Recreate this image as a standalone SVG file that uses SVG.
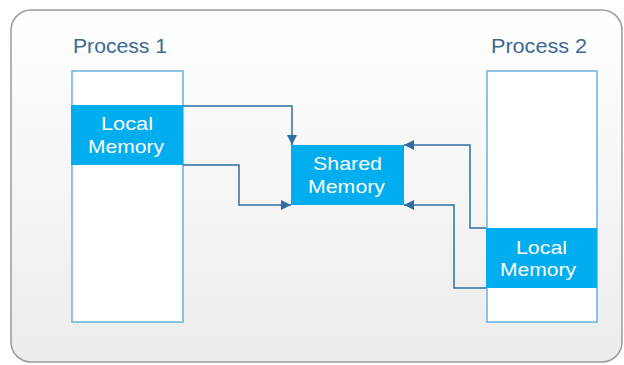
<svg xmlns="http://www.w3.org/2000/svg" width="624" height="365" viewBox="0 0 624 365">
<defs>
<linearGradient id="bg" x1="0" y1="0" x2="0" y2="1">
<stop offset="0" stop-color="#ffffff"/>
<stop offset="1" stop-color="#ececec"/>
</linearGradient>
<marker id="ah" viewBox="0 0 10 10" refX="10" refY="5" markerWidth="10" markerHeight="10" markerUnits="userSpaceOnUse" orient="auto">
<path d="M0,0 L10,5 L0,10 z" fill="#2f6ea3"/>
</marker>
<style>
.proc{fill:#ffffff;stroke:#6aaee0;stroke-width:1.5}
.mem{fill:#00adef}
.title{font-family:"Liberation Sans",Arial,sans-serif;font-size:19.5px;fill:#3a6a94}
.lbl{font-family:"Liberation Sans",Arial,sans-serif;font-size:18.5px;fill:#ffffff}
.conn{fill:none;stroke:#2f6ea3;stroke-width:1.5;marker-end:url(#ah)}
</style>
</defs>
<rect x="11" y="10" width="611" height="352" rx="20" fill="url(#bg)" stroke="#9a9a9a" stroke-width="1.5"/>
<g id="process1">
<text class="title" x="73" y="53" textLength="94" lengthAdjust="spacingAndGlyphs">Process 1</text>
<rect class="proc" x="72" y="71" width="111" height="251"/>
</g>
<g id="process2">
<text class="title" x="491" y="53" textLength="96" lengthAdjust="spacingAndGlyphs">Process 2</text>
<rect class="proc" x="487" y="71" width="110" height="251"/>
</g>
<g id="local1">
<rect class="mem" x="71" y="105" width="112" height="60"/>
<text class="lbl" x="101" y="130" textLength="52" lengthAdjust="spacingAndGlyphs">Local</text>
<text class="lbl" x="88" y="153" textLength="76" lengthAdjust="spacingAndGlyphs">Memory</text>
</g>
<g id="local2">
<rect class="mem" x="486" y="228" width="111" height="60"/>
<text class="lbl" x="516" y="254" textLength="51" lengthAdjust="spacingAndGlyphs">Local</text>
<text class="lbl" x="500" y="276" textLength="76" lengthAdjust="spacingAndGlyphs">Memory</text>
</g>
<g id="shared">
<rect class="mem" x="291" y="145" width="113" height="60"/>
<text class="lbl" x="313" y="170" textLength="69" lengthAdjust="spacingAndGlyphs">Shared</text>
<text class="lbl" x="308" y="193" textLength="77" lengthAdjust="spacingAndGlyphs">Memory</text>
</g>
<g id="connectors">
<path class="conn" d="M183,106 H292 V145"/>
<path class="conn" d="M183,165 H239 V205 H291"/>
<path class="conn" d="M486,228 H470 V145 H404"/>
<path class="conn" d="M486,288 H454 V205 H404"/>
</g>
</svg>
